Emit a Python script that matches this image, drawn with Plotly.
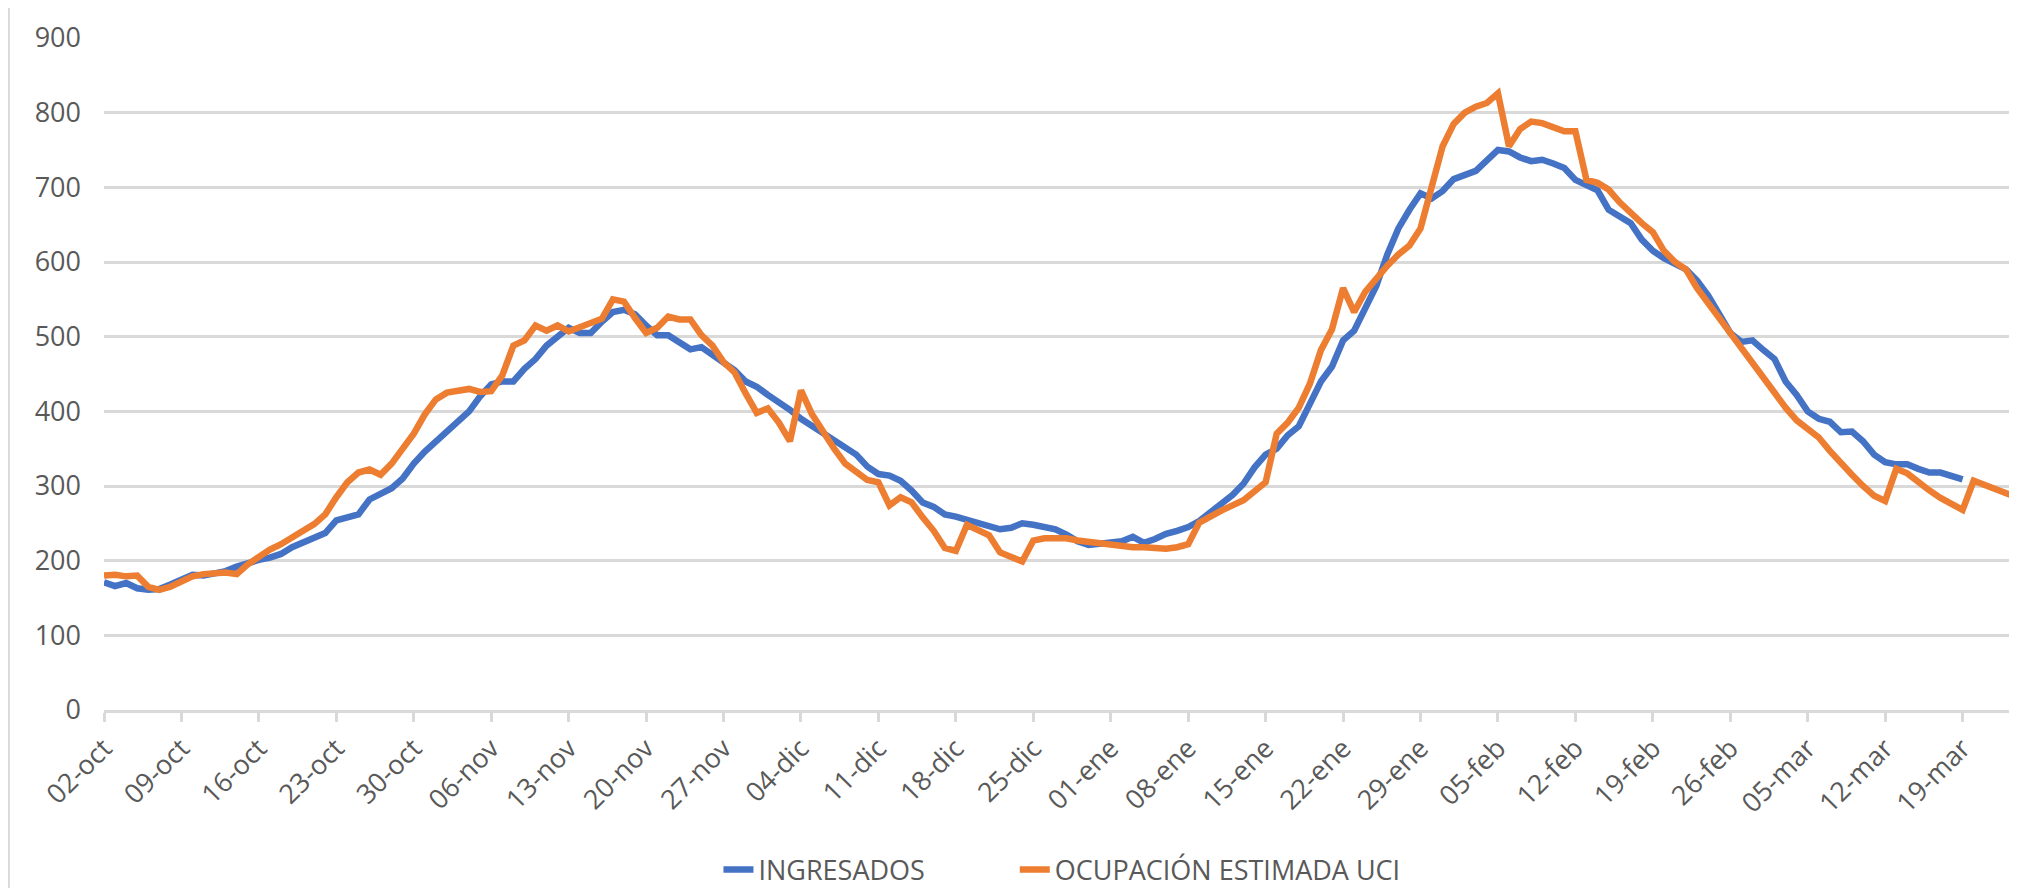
import pandas as pd
import plotly.graph_objects as go

# ---- data ----
start_date = "2020-10-02"

ingresados = [
    171, 166, 170, 163, 161, 162, 168, 175, 181, 180,
    182, 186, 192, 197, 201, 204, 209, 218, 224, 231,
    237, 254, 257, 262, 282, 289, 297, 310, 330, 346,
    360, 375, 388, 400, 420, 436, 440, 440, 457, 470,
    488, 500, 512, 505, 505, 520, 533, 536, 530, 515,
    502, 502, 492, 483, 486, 475, 465, 455, 440, 433,
    422, 413, 402, 390, 380, 371, 362, 350, 342, 326,
    316, 314, 307, 294, 278, 272, 262, 259, 255, 252,
    247, 242, 244, 250, 248, 244, 242, 235, 226, 221,
    222, 224, 226, 232, 224, 229, 236, 240, 245, 253,
    265, 275, 288, 303, 325, 342, 350, 368, 380, 410,
    440, 460, 495, 508, 540, 568, 610, 645, 670, 692,
    685, 695, 711, 716, 722, 736, 750, 748, 740, 735,
    737, 732, 726, 710, 702, 696, 670, 661, 652, 630,
    615, 605, 598, 590, 575, 555, 530, 505, 493, 495,
    482, 470, 440, 422, 400, 390, 386, 372, 373, 360,
    342, 332, 329, 329, 323, 318, 318, 314, 309,
]

ocupacion_uci = [
    180, 181, 179, 180, 165, 161, 165, 171, 179, 182,
    184, 184, 182, 195, 205, 215, 222, 232, 240, 249,
    262, 285, 305, 318, 322, 315, 330, 350, 370, 396,
    416, 425, 427, 430, 426, 427, 448, 488, 495, 515,
    508, 515, 507, 512, 518, 524, 550, 547, 525, 505,
    512, 527, 523, 523, 502, 488, 466, 452, 424, 398,
    404, 385, 360, 428, 396, 372, 350, 330, 318, 308,
    305, 274, 285, 278, 258, 240, 217, 213, 248, 241,
    234, 211, 206, 199, 227, 230, 230, 230, 227, 225,
    223, 223, 220, 218, 218, 216, 216, 218, 222, 251,
    260, 267, 274, 281, 293, 305, 370, 385, 405, 437,
    482, 510, 565, 533, 560, 578, 595, 610, 622, 645,
    700, 755, 785, 800, 808, 813, 826, 755, 778, 788,
    786, 780, 775, 775, 710, 706, 697, 680, 665, 652,
    640, 615, 600, 590, 565, 545, 525, 505, 485, 462,
    444, 423, 405, 388, 376, 365, 347, 330, 315, 300,
    287, 280, 323, 317, 305, 294, 284, 275, 268, 307,
    302, 296, 290, 284,
]

tick_labels = [
    "02-oct", "09-oct", "16-oct", "23-oct", "30-oct", "06-nov", "13-nov",
    "20-nov", "27-nov", "04-dic", "11-dic", "18-dic", "25-dic", "01-ene",
    "08-ene", "15-ene", "22-ene", "29-ene", "05-feb", "12-feb", "19-feb",
    "26-feb", "05-mar", "12-mar", "19-mar",
]

series_names = ["INGRESADOS", "OCUPACIÓN ESTIMADA UCI"]
series_colors = ["#4472C4", "#ED7D31"]

# ---- build figure ----
dates = pd.date_range(start_date, periods=len(ocupacion_uci), freq="D")
tick_dates = pd.date_range(start_date, periods=len(tick_labels), freq="7D")

FONT = "Open Sans"
TXT = "#595959"
GRID = "#d9d9d9"

fig = go.Figure()
fig.add_trace(go.Scatter(
    x=dates[:len(ingresados)], y=ingresados, mode="lines",
    name=series_names[0], legend="legend",
    line=dict(color=series_colors[0], width=6.5),
))
fig.add_trace(go.Scatter(
    x=dates, y=ocupacion_uci, mode="lines",
    name=series_names[1], legend="legend2",
    line=dict(color=series_colors[1], width=6.5),
))

legend_common = dict(
    orientation="h", xanchor="left", y=-0.238, yanchor="middle",
    font=dict(family=FONT, size=27, color=TXT),
    bgcolor="rgba(0,0,0,0)",
)

fig.update_layout(
    width=2009, height=880,
    margin=dict(l=96, r=0, t=30, b=178, autoexpand=False),
    paper_bgcolor="white", plot_bgcolor="white",
    font=dict(family=FONT, size=27, color=TXT),
    showlegend=True,
    legend=dict(x=0.3212, **legend_common),
    legend2=dict(x=0.4761, **legend_common),
    xaxis=dict(
        type="date",
        range=[dates[0], pd.Timestamp("2021-03-23 22:00")],
        tickmode="array", tickvals=tick_dates, ticktext=tick_labels,
        tickangle=-45,
        tickfont=dict(family=FONT, size=27, color=TXT),
        showgrid=False,
        showline=True, linecolor=GRID, linewidth=2.5,
        ticks="outside", ticklen=9, tickwidth=2.5, tickcolor=GRID,
        zeroline=False,
    ),
    yaxis=dict(
        range=[0, 900], dtick=100, tick0=0,
        showgrid=True, gridcolor=GRID, gridwidth=2.5,
        zeroline=False, showline=False, ticks="",
        tickfont=dict(family=FONT, size=27, color=TXT),
        ticklabelstandoff=22,
    ),
    shapes=[dict(
        type="line", xref="paper", yref="paper",
        x0=-0.0497, x1=-0.0497, y0=-0.3, y1=1.06,
        line=dict(color=GRID, width=2),
    )],
)

fig.write_html("out.html")
